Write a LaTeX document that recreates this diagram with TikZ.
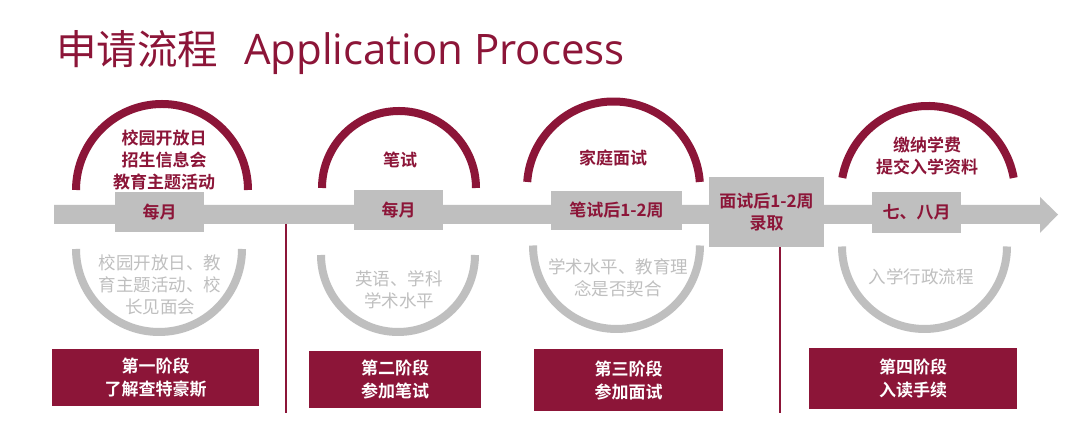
\documentclass[tikz,border=0pt]{standalone}
\usepackage{fontspec}
\usetikzlibrary{calc}
\setmainfont{Noto Sans CJK SC}[BoldFont={Noto Sans CJK SC Bold}]
\newfontfamily\latinfont{Open Sans}
\definecolor{mar}{RGB}{140,21,56}
\definecolor{band}{RGB}{191,191,191}
\tikzset{
  tag/.style={fill=band, text=mar, font=\bfseries\fontsize{17}{22}\selectfont, inner sep=0pt, align=center},
  stagebox/.style={fill=mar, text=white, font=\bfseries\fontsize{17}{23}\selectfont, inner sep=0pt, align=center},
  uptext/.style={text=mar, font=\bfseries\fontsize{17}{22}\selectfont, align=center, inner sep=0pt},
  lowtext/.style={text=band, font=\fontsize{17.5}{22}\selectfont, align=center, inner sep=0pt},
  uparc/.style={draw=mar, line width=8pt},
  lowarc/.style={draw=band, line width=8pt},
  vline/.style={draw=mar, line width=1.3pt}
}
\begin{document}
\begin{tikzpicture}[x=1pt,y=1pt]
\useasboundingbox[fill=white] (0,0) rectangle (1080,446);
% title
\node[anchor=west, text=mar, font=\fontsize{40.5}{44}\selectfont, inner sep=0pt] (title) at (56,393) {申请流程\hspace{26pt}{\latinfont\fontsize{42}{44}\selectfont Application Process}};
% band arrow
\fill[band] (54,241) -- (1040,241) -- (1040,249) -- (1058,231.5) -- (1040,213) -- (1040,222) -- (54,222) -- cycle;
% arcs
\draw[uparc] (76,256) arc[start angle=180,end angle=0,radius=86];
\draw[uparc] (322,258) arc[start angle=180,end angle=0,radius=77];
\draw[uparc] ($(613.5,258)+(176:86.5)$) arc[start angle=176,end angle=4,radius=86.5];
\draw[uparc] ($(928,253)+(170:87)$) arc[start angle=170,end angle=10,radius=87];
\draw[lowarc] (76,197) arc[start angle=180,end angle=360,radius=83];
\draw[lowarc] (321,191) arc[start angle=180,end angle=360,radius=77];
\draw[lowarc] (533,200.5) arc[start angle=180,end angle=360,radius=83.5];
\draw[lowarc] (842,199.5) arc[start angle=180,end angle=360,radius=82.5];
% band tags
\node[tag, minimum width=89pt, minimum height=40pt] (m1) at (159.5,233.5) {每月};
\node[tag, minimum width=89pt, minimum height=40pt] (m2) at (398.5,236) {每月};
\node[tag, minimum width=131pt, minimum height=39pt] (m3) at (616.5,235.5) {笔试后1-2周};
\node[tag, minimum width=115pt, minimum height=70pt] (adm) at (766.5,234) {面试后1-2周\\录取};
\node[tag, minimum width=89pt, minimum height=41pt] (m4) at (916.5,233.5) {七、八月};
% upper texts
\node[uptext] (u1) at (164,286) {校园开放日\\招生信息会\\教育主题活动};
\node[uptext] (u2) at (400,286) {笔试};
\node[uptext] (u3) at (613,288) {家庭面试};
\node[uptext] (u4) at (927,290) {缴纳学费\\提交入学资料};
% lower texts
\node[lowtext] (g1) at (160,161) {校园开放日、教\\育主题活动、校\\长见面会};
\node[lowtext] (g2) at (399,156) {英语、学科\\学术水平};
\node[lowtext] (g3) at (618,168.5) {学术水平、教育理\\念是否契合};
\node[lowtext] (g4) at (921,169) {入学行政流程};
% stage boxes
\node[stagebox, minimum width=207pt, minimum height=57pt] (s1) at (155.5,68.5) {第一阶段\\了解查特豪斯};
\node[stagebox, minimum width=172pt, minimum height=57pt] (s2) at (395,66.5) {第二阶段\\参加笔试};
\node[stagebox, minimum width=189pt, minimum height=62pt] (s3) at (628.5,66) {第三阶段\\参加面试};
\node[stagebox, minimum width=208pt, minimum height=61pt] (s4) at (913,67.5) {第四阶段\\入读手续};
% separators
\coordinate (v1t) at (286,222);
\coordinate (v1b) at (286,33);
\coordinate (v2b) at (780,33);
\draw[vline] (v1t) -- (v1b);
\draw[vline] (adm.south -| v2b) -- (v2b);
\end{tikzpicture}
\end{document}
